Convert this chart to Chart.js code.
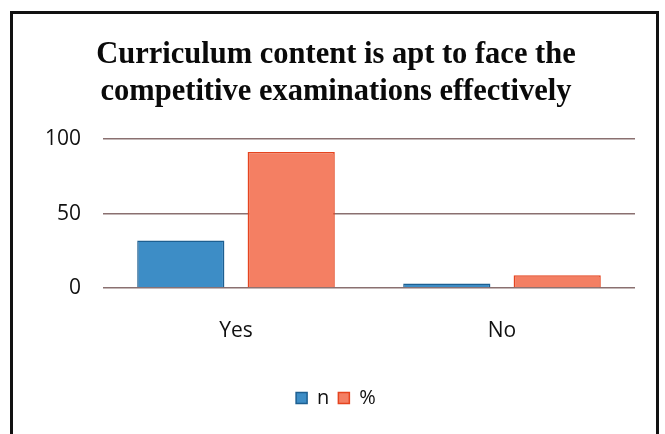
<!DOCTYPE html>
<html>
<head>
<meta charset="utf-8">
<script src="https://cdn.jsdelivr.net/npm/chart.js@4/dist/chart.umd.min.js"></script>
<style>
  html, body { margin: 0; padding: 0; background: #fff; overflow: hidden; }
  #wrap { position: relative; width: 665px; height: 434px; }
  #frame { position: absolute; left: 10px; top: 11px; width: 649px; height: 440px; border: 3px solid #111; box-sizing: border-box; pointer-events: none; }
  canvas { position: absolute; left: 0; top: 0; }
</style>
</head>
<body>
<div id="wrap">
  <canvas id="c" width="665" height="434"></canvas>
  <div id="frame"></div>
</div>
<script>
const titleLines = ["Curriculum content is apt to face the", "competitive examinations effectively"];
const categories = ["Yes", "No"];
const nValues = [32, 3];
const pctValues = [91.4, 8.6];
const yTicks = [0, 50, 100];

new Chart(document.getElementById('c'), {
  type: 'bar',
  data: {
    labels: categories,
    datasets: [
      { label: 'n', data: nValues, backgroundColor: '#3d8dc6', borderColor: '#1d5f91', borderWidth: 1.5 },
      { label: '%', data: pctValues, backgroundColor: '#f47f63', borderColor: '#e5441f', borderWidth: 1.5 }
    ]
  },
  options: {
    responsive: false,
    animation: false,
    layout: { padding: { left: 37, right: 30, bottom: 16, top: 0 } },
    datasets: { bar: { categoryPercentage: 0.83, barPercentage: 0.79 } },
    plugins: {
      title: {
        display: true,
        text: titleLines,
        color: '#0a0a0a',
        font: { family: 'Liberation Serif', weight: 'bold', size: 30.5, lineHeight: 1.2 },
        padding: { top: 37, bottom: 29 }
      },
      legend: {
        position: 'bottom',
        labels: { color: '#111', font: { family: 'Open Sans', size: 20 }, boxWidth: 11, boxHeight: 11, padding: 9 }
      },
      tooltip: { enabled: false }
    },
    scales: {
      x: {
        grid: { display: false, drawTicks: false },
        border: { display: false },
        ticks: { color: '#111', font: { family: 'Open Sans', size: 21 }, padding: 30 },
        afterFit: s => { s.height = 91; }
      },
      y: {
        min: 0, max: 100,
        afterBuildTicks: s => { s.ticks = yTicks.map(v => ({ value: v })); },
        grid: { color: '#8a7070', lineWidth: 1.5, drawTicks: false },
        border: { display: false },
        ticks: { color: '#111', font: { family: 'Open Sans', size: 21 }, padding: 22 },
        afterFit: s => { s.width = 66; }
      }
    }
  }
});
</script>
</body>
</html>
